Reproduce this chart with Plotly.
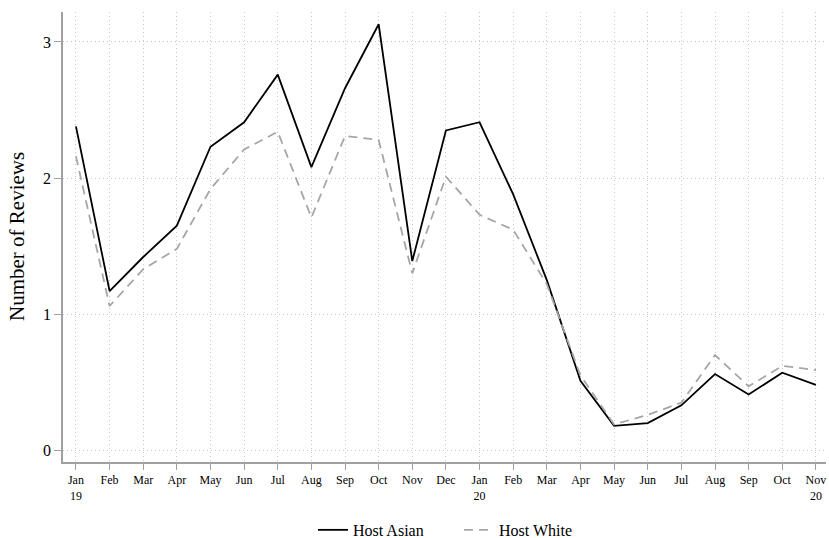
import plotly.graph_objects as go

months = ["Jan<br>19", "Feb", "Mar", "Apr", "May", "Jun", "Jul", "Aug", "Sep", "Oct", "Nov", "Dec",
          "Jan<br>20", "Feb", "Mar", "Apr", "May", "Jun", "Jul", "Aug", "Sep", "Oct", "Nov<br>20"]
x_idx = list(range(len(months)))

host_asian = [2.38, 1.17, 1.42, 1.65, 2.23, 2.41, 2.76, 2.08, 2.66, 3.13, 1.39, 2.35,
              2.41, 1.88, 1.25, 0.51, 0.18, 0.20, 0.33, 0.56, 0.41, 0.57, 0.48]
host_white = [2.16, 1.06, 1.33, 1.48, 1.92, 2.21, 2.34, 1.71, 2.31, 2.28, 1.30, 2.01,
              1.73, 1.62, 1.22, 0.55, 0.19, 0.26, 0.35, 0.70, 0.47, 0.62, 0.59]

y_ticks = [0, 1, 2, 3]

fig = go.Figure()
fig.add_trace(go.Scatter(x=x_idx, y=host_asian, mode="lines", name="Host Asian",
                         line=dict(color="black", width=1.8)))
fig.add_trace(go.Scatter(x=x_idx, y=host_white, mode="lines", name="Host White",
                         line=dict(color="#a6a6a6", width=1.8, dash="9px,6px")))

font_family = "Liberation Serif, Times New Roman, serif"
fig.update_layout(
    width=829, height=538,
    margin=dict(l=63, r=3, t=12, b=76, autoexpand=False),
    paper_bgcolor="white", plot_bgcolor="white",
    font=dict(family=font_family, color="black"),
    showlegend=True,
    legend=dict(orientation="h", x=(313 - 63) / 763, xanchor="left", y=-0.151, yanchor="middle",
                font=dict(size=16, family=font_family), tracegroupgap=0,
                entrywidth=101, entrywidthmode="pixels"),
    xaxis=dict(
        range=[-0.385, 22.3], tickmode="array", tickvals=x_idx, ticktext=months,
        showline=True, linecolor="#a0a0a0", linewidth=1.5,
        ticks="outside", ticklen=6, tickcolor="#a0a0a0", tickwidth=1,
        showgrid=True, gridcolor="#c8c8c8", griddash="1px,3px", gridwidth=1,
        zeroline=False, tickfont=dict(size=12, family=font_family), tickangle=0,
        automargin=False,
    ),
    yaxis=dict(
        range=[-0.086, 3.22], tickmode="array", tickvals=y_ticks,
        ticktext=[str(v) for v in y_ticks],
        showline=True, linecolor="#a0a0a0", linewidth=1.5,
        ticks="outside", ticklen=7, tickcolor="#a0a0a0", tickwidth=1,
        showgrid=True, gridcolor="#c8c8c8", griddash="1px,3px", gridwidth=1,
        zeroline=False, tickfont=dict(size=16, family=font_family),
        automargin=False,
    ),
    annotations=[dict(text="Number of Reviews", xref="paper", yref="paper",
                      x=(17 - 63) / 763, y=0.5, xanchor="center", yanchor="middle",
                      textangle=-90, showarrow=False,
                      font=dict(size=21, family=font_family, color="black"))],
)

fig.write_html("out.html", config={"displayModeBar": False},
               post_script="document.body.style.margin='0px';document.body.style.padding='0px';")
